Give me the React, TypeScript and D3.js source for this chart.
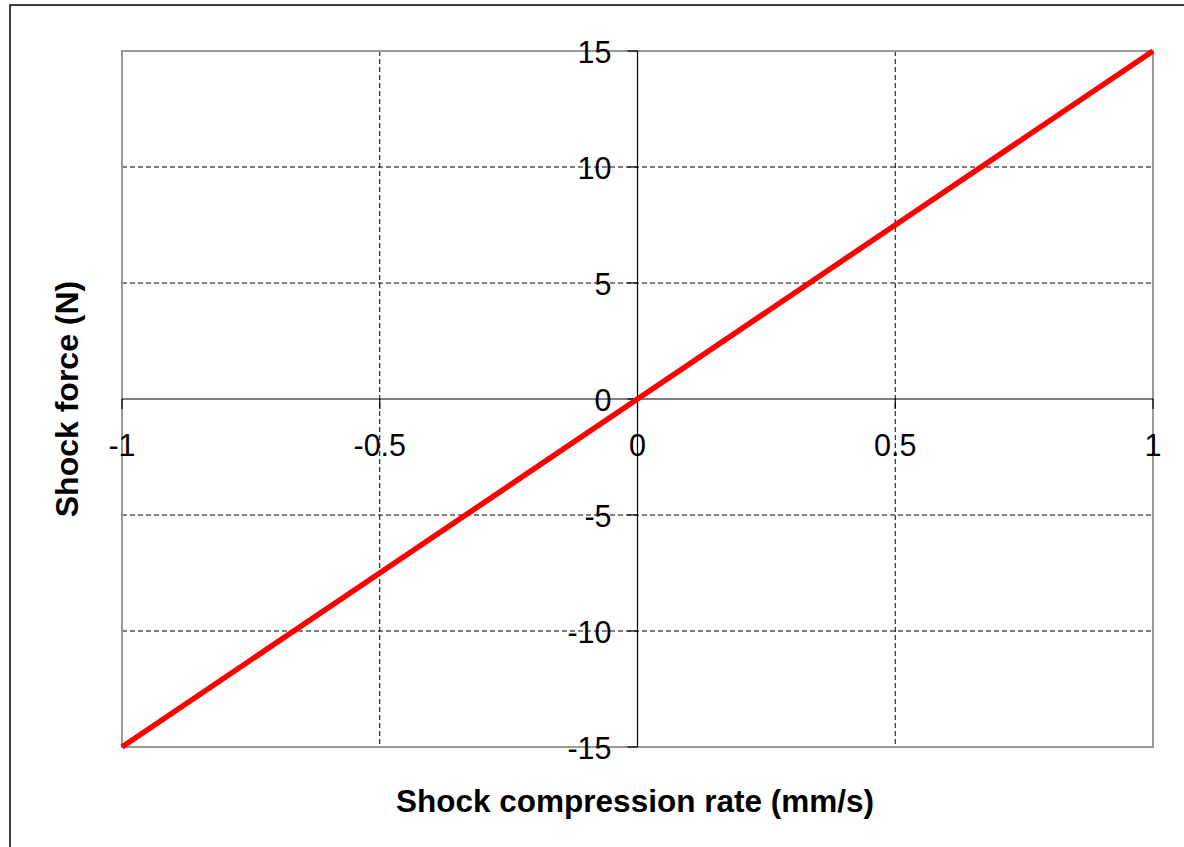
import React from 'react'
import * as d3 from 'd3'

const rates = [-1, -0.5, 0, 0.5, 1]
const forces = [-15, -7.5, 0, 7.5, 15]
const xTicks = [-1, -0.5, 0, 0.5, 1]
const yTicks = [-15, -10, -5, 0, 5, 10, 15]

const W = 1184
const H = 847
const plot = { left: 122, right: 1153, top: 51, bottom: 747 }
const font = '"Liberation Sans", Arial, sans-serif'

export default function App() {
  const x = d3.scaleLinear().domain([-1, 1]).range([plot.left, plot.right])
  const y = d3.scaleLinear().domain([-15, 15]).range([plot.bottom, plot.top])
  const line = d3
    .line<number>()
    .x((_, i) => x(rates[i]))
    .y((d) => y(d))

  const x0 = x(0)
  const y0 = y(0)

  return (
    <svg
      width={W}
      height={H}
      style={{ position: 'absolute', left: 0, top: 0, display: 'block', background: '#fff' }}
      fontFamily={font}
    >
      {/* outer frame */}
      <rect x={10} y={5} width={W} height={H} fill="none" stroke="#000" strokeWidth={1.5} />

      {/* dashed grid */}
      {xTicks
        .filter((t) => t !== 0 && Math.abs(t) !== 1)
        .map((t) => (
          <line key={'gx' + t} x1={x(t)} x2={x(t)} y1={plot.top} y2={plot.bottom} stroke="#000" strokeWidth={1} strokeDasharray="5,3" />
        ))}
      {yTicks
        .filter((t) => t !== 0 && Math.abs(t) !== 15)
        .map((t) => (
          <line key={'gy' + t} x1={plot.left} x2={plot.right} y1={y(t)} y2={y(t)} stroke="#000" strokeWidth={1} strokeDasharray="5,3" />
        ))}

      {/* plot border */}
      <rect
        x={plot.left}
        y={plot.top}
        width={plot.right - plot.left}
        height={plot.bottom - plot.top}
        fill="none"
        stroke="#999"
        strokeWidth={2}
      />

      {/* axes through zero */}
      <line x1={plot.left} x2={plot.right} y1={y0} y2={y0} stroke="#000" strokeWidth={1.2} />
      <line x1={x0} x2={x0} y1={plot.top} y2={plot.bottom} stroke="#000" strokeWidth={1.2} />

      {/* y ticks + labels */}
      {yTicks.map((t) => (
        <g key={'yt' + t}>
          <line x1={x0 - 10} x2={x0} y1={y(t)} y2={y(t)} stroke="#000" strokeWidth={1.2} />
          <text x={x0 - 26} y={y(t) + 1} textAnchor="end" dominantBaseline="central" fontSize={30.5} fill="#000">
            {t}
          </text>
        </g>
      ))}

      {/* x ticks + labels */}
      {xTicks.map((t) => (
        <g key={'xt' + t}>
          <line x1={x(t)} x2={x(t)} y1={y0} y2={y0 + 10} stroke="#000" strokeWidth={1.2} />
          <text x={x(t)} y={y0 + 46} textAnchor="middle" dominantBaseline="central" fontSize={30.5} fill="#000">
            {t}
          </text>
        </g>
      ))}

      {/* series */}
      <path d={line(forces) || ''} fill="none" stroke="#ff0000" strokeWidth={5.5} />

      {/* axis titles */}
      <text x={635} y={812} textAnchor="middle" fontSize={31.5} fontWeight="bold" fill="#000">
        Shock compression rate (mm/s)
      </text>
      <text
        transform={`translate(78, ${y0}) rotate(-90)`}
        textAnchor="middle"
        fontSize={32}
        fontWeight="bold"
        fill="#000"
      >
        Shock force (N)
      </text>
    </svg>
  )
}
